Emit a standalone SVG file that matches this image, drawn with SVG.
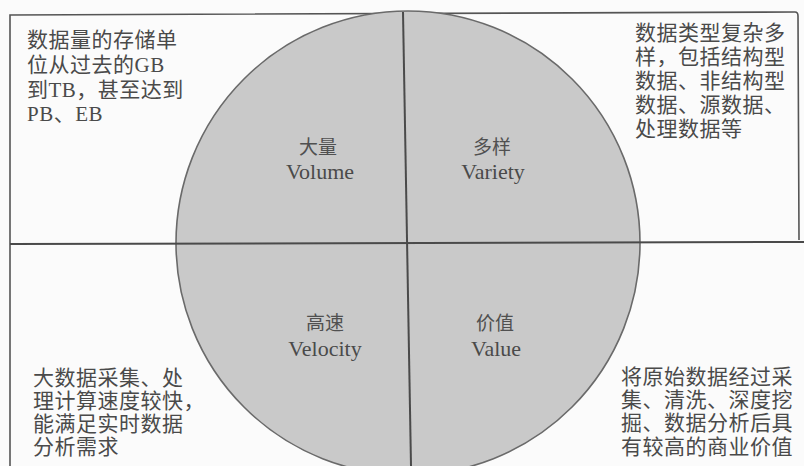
<svg xmlns="http://www.w3.org/2000/svg" width="804" height="466" viewBox="0 0 804 466">
  <style>
    .frame { fill: none; stroke: #555; stroke-width: 1.6; }
    .axis { fill: none; stroke: #4a4a4a; stroke-width: 2; }
    .note { font-family: "Liberation Serif", "Noto Sans CJK SC", serif; font-size: 21px; fill: #4a4a4a; letter-spacing: 0.5px; }
    .cn { font-family: "Liberation Serif", "Noto Sans CJK SC", serif; font-size: 19px; fill: #505050; text-anchor: middle; }
    .en { font-family: "Liberation Serif", "Times New Roman", serif; font-size: 22px; fill: #4a4a4a; text-anchor: middle; }
  </style>
  <rect x="0" y="0" width="804" height="466" fill="#fbfbfb"/>
  <g id="frame">
    <path class="frame" d="M10,466 L10,15 L795,12 Q798,12 798,16 L799,240"/>
  </g>
  <g id="circle">
    <circle cx="408" cy="243" r="232" fill="#c9c9c9" stroke="#6a6a6a" stroke-width="1.6"/>
  </g>
  <g id="connectors">
    <line class="axis" x1="10" y1="244" x2="804" y2="242"/>
    <line class="axis" x1="403" y1="12" x2="411" y2="466"/>
  </g>
  <g id="volume">
    <text class="cn" x="318" y="154">大量</text>
    <text class="en" x="320" y="179">Volume</text>
  </g>
  <g id="variety">
    <text class="cn" x="492" y="154">多样</text>
    <text class="en" x="493" y="179">Variety</text>
  </g>
  <g id="velocity">
    <text class="cn" x="325" y="330">高速</text>
    <text class="en" x="325" y="356">Velocity</text>
  </g>
  <g id="value">
    <text class="cn" x="495" y="330">价值</text>
    <text class="en" x="496" y="356">Value</text>
  </g>
  <g id="note-volume">
    <text class="note" x="27" y="47">数据量的存储单</text>
    <text class="note" x="27" y="72">位从过去的GB</text>
    <text class="note" x="27" y="97">到TB，甚至达到</text>
    <text class="note" x="27" y="121">PB、EB</text>
  </g>
  <g id="note-variety">
    <text class="note" x="635" y="40">数据类型复杂多</text>
    <text class="note" x="635" y="64">样，包括结构型</text>
    <text class="note" x="635" y="88">数据、非结构型</text>
    <text class="note" x="635" y="112">数据、源数据、</text>
    <text class="note" x="635" y="136">处理数据等</text>
  </g>
  <g id="note-velocity">
    <text class="note" x="33" y="385">大数据采集、处</text>
    <text class="note" x="33" y="408">理计算速度较快，</text>
    <text class="note" x="33" y="431">能满足实时数据</text>
    <text class="note" x="33" y="454">分析需求</text>
  </g>
  <g id="note-value">
    <text class="note" x="621" y="384">将原始数据经过采</text>
    <text class="note" x="621" y="407">集、清洗、深度挖</text>
    <text class="note" x="621" y="430">掘、数据分析后具</text>
    <text class="note" x="621" y="454">有较高的商业价值</text>
  </g>
</svg>
